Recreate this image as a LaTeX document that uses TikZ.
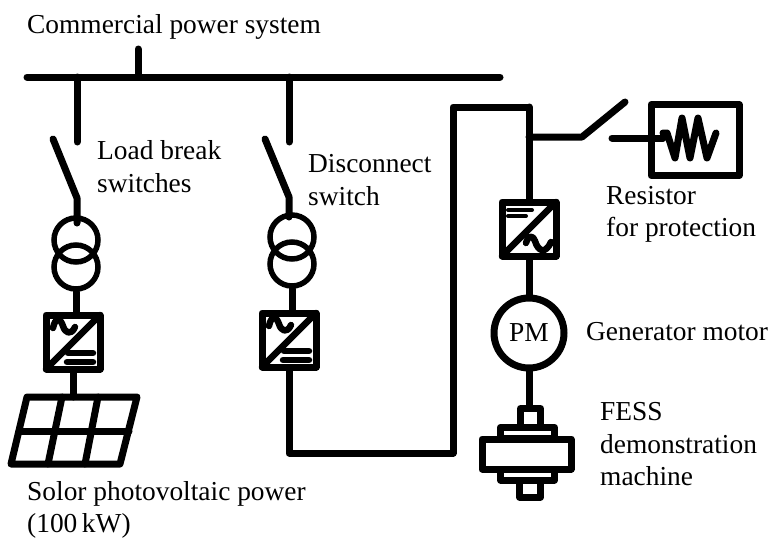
\documentclass[tikz,border=0pt]{standalone}
\usepackage{fontspec}
\setmainfont{Liberation Serif}
\usetikzlibrary{positioning,calc}
\tikzset{
    wire/.style={line width=7pt, line cap=round, line join=round},
    thinwire/.style={line width=6.5pt, line cap=round, line join=round},
    barwire/.style={line width=4pt, line cap=round},
    lbl/.style={anchor=base west, inner sep=0pt, font=\fontsize{27.4}{32}\selectfont},
    coil/.style={circle, draw, line width=5.5pt, minimum size=44pt, inner sep=0pt},
    framebox/.style={rectangle, draw, line width=7pt, line join=round, inner sep=0pt},
    convbox/.style={framebox, minimum size=54pt},
    convA/.pic={
        \node[convbox] (-box) at (0,0) {};
        \draw[thinwire] (-27,27) -- (27,-27);
        \draw[thinwire] (-20,-14) .. controls (-18,-24) and (-13,-25) .. (-10,-16) .. controls (-8,-9) and (-2,-6) .. (2,-15);
        \draw[thinwire] (-5,11) -- (20,11);
        \draw[thinwire] (-6,20) -- (20,20);
    },
    convB/.pic={
        \node[convbox] (-box) at (0,0) {};
        \draw[thinwire] (-27,27) -- (27,-27);
        \draw[barwire] (-21,-19) -- (3,-19);
        \draw[barwire] (-21,-13) -- (-3,-13);
        \draw[thinwire] (-3,14) .. controls (-1,7) and (3,5) .. (6,12) .. controls (9,22) and (16,26) .. (22,13);
    }
}
\begin{document}
\begin{tikzpicture}[x=1pt, y=-1pt]
    \useasboundingbox (0,0) rectangle (768,538);

    % bus
    \coordinate (busL) at (27,77);
    \coordinate (busR) at (500,77);
    \coordinate (busT) at (138,49);
    \draw[wire] (busL) -- (busR);
    \draw[wire] (busT) -- (busT |- busL);

    % solar branch
    \node[coil] (coilA1) at (76,240) {};
    \node[coil] (coilA2) at (76,267) {};
    \pic (convLeft) at (73,342) {convA};
    \coordinate (swAtop) at (77,142);
    \coordinate (swAfree) at (53,139);
    \coordinate (swApivot) at (77,198);
    \coordinate (swAend) at (77,223);
    \draw[wire] (swAtop |- busL) -- (swAtop);
    \draw[wire] (swAfree) -- (swApivot) -- (swAend);
    \draw[wire] (coilA2.south) -- (coilA2.south |- convLeft-box.north);
    \draw[wire] (convLeft-box.south) -- (73,397);

    % panel
    \draw[wire] (27,397) -- (137,397) -- (120,464) -- (11,464) -- cycle;
    \draw[wire] (19,431) -- (129,431);
    \draw[wire] (62,397) -- (48,464);
    \draw[wire] (98,397) -- (85,464);

    % second branch
    \node[coil] (coilB1) at (292,237) {};
    \node[coil] (coilB2) at (292,264) {};
    \pic (convMid) at (289,340) {convA};
    \coordinate (swBtop) at (289,142);
    \coordinate (swBfree) at (265,139);
    \coordinate (swBpivot) at (289,197);
    \coordinate (swBend) at (289,217);
    \coordinate (cornerA) at (289,453);
    \coordinate (cornerB) at (453,453);
    \coordinate (cornerC) at (453,107);
    \coordinate (cornerD) at (529,107);
    \draw[wire] (swBtop |- busL) -- (swBtop);
    \draw[wire] (swBfree) -- (swBpivot) -- (swBend);
    \draw[wire] (coilB2.south) -- (coilB2.south |- convMid-box.north);
    \draw[wire] (convMid-box.south) -- (cornerA) -- (cornerB) -- (cornerC) -- (cornerD);

    % flywheel branch
    \pic (convRight) at (529,229) {convB};
    \node[circle, draw, line width=7pt, minimum size=70pt, inner sep=0pt, lbl, anchor=center] (pm) at (529,333) {PM};
    \draw[wire] (cornerD) -- (convRight-box.north);
    \draw[wire] (convRight-box.south) -- (pm.north);

    % switch to resistor
    \coordinate (tapR) at (529,137);
    \coordinate (swCpivot) at (582,137);
    \coordinate (swCfree) at (625,102);
    \coordinate (swCout) at (612,138);
    \node[framebox, minimum width=88pt, minimum height=71pt] (resbox) at (695,140) {};
    \draw[wire] (tapR) -- (swCpivot) -- (swCfree);
    \draw[wire] (swCout) -- (663,138);
    \draw[wire] (663,133) -- (667,133) -- (675,158) -- (682,118) -- (690,158) -- (698,118) -- (707,158) -- (716,133);

    % flywheel
    \node[framebox, minimum width=20pt, minimum height=19pt] (fwTop) at (530.5,418) {};
    \node[framebox, minimum width=21pt, minimum height=17pt] (fwBot) at (530,488.5) {};
    \node[framebox, minimum width=54pt, minimum height=11.5pt] (fwUp) at (527.5,433) {};
    \node[framebox, minimum width=54pt, minimum height=11pt] (fwLow) at (527.5,474.5) {};
    \node[framebox, fill=white, minimum width=89pt, minimum height=30pt] (fwMain) at (526.5,454) {};
    \draw[wire] (pm.south) -- (pm.south |- fwTop.north);

    % labels
    \node[lbl] (tCommercial) at (27,33) {Commercial power system};
    \node[lbl] (tLoad) at (97,159) {Load break};
    \node[lbl] (tLoadB) at (97,192) {switches};
    \node[lbl] (tDisc) at (308,172) {Disconnect};
    \node[lbl] (tDiscB) at (308,205) {switch};
    \node[lbl] (tRes) at (606,204) {Resistor};
    \node[lbl] (tResB) at (606,236) {for protection};
    \node[lbl] (tGen) at (586,340) {Generator motor};
    \node[lbl] (tFess) at (600,420) {FESS};
    \node[lbl] (tFessB) at (600,453) {demonstration};
    \node[lbl] (tFessC) at (600,485) {machine};
    \node[lbl] (tSolor) at (27,500) {Solor photovoltaic power};
    \node[lbl] (tSolorB) at (27,532) {(100\,kW)};
\end{tikzpicture}
\end{document}
